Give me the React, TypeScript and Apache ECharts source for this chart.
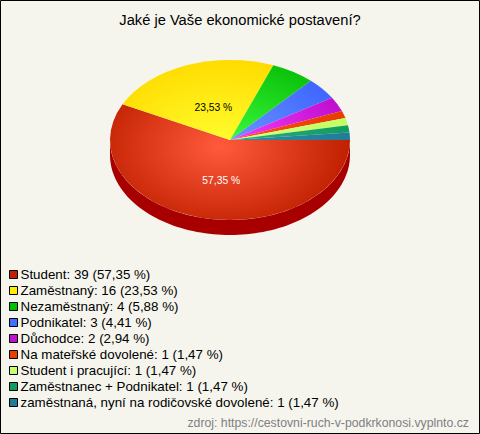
import React, { useEffect, useRef } from "react";
import * as echarts from "echarts";

const categories = ["Student", "Zaměstnaný", "Nezaměstnaný", "Podnikatel", "Důchodce", "Na mateřské dovolené", "Student i pracující", "Zaměstnanec + Podnikatel", "zaměstnaná, nyní na rodičovské dovolené"];
const counts = [39, 16, 4, 3, 2, 1, 1, 1, 1];
const percentText = ["57,35", "23,53", "5,88", "4,41", "2,94", "1,47", "1,47", "1,47", "1,47"];
const edgeColors = ["#c02000", "#ffdc00", "#0cc40c", "#4068ff", "#c010d0", "#e83c00", "#c0ff60", "#109c60", "#207c98"];
const midColors = ["#ff5a3c", "#ffff30", "#40ff40", "#7098ff", "#ff40ff", "#ff5020", "#d8ff88", "#30b080", "#3090a8"];
const legendColors = ["#c02000", "#ffee00", "#00c000", "#4070ff", "#c010d0", "#e84000", "#c8ff70", "#109c60", "#207c98"];
const labelColors = ["#ffffff", "#000000"];
const titleText = "Jaké je Vaše ekonomické postavení?";
const sourceText = "zdroj: https://cestovni-ruch-v-podkrkonosi.vyplnto.cz";

const total = counts.reduce((a, b) => a + b, 0);
const CX = 230, CY = 140, RX = 120, RY = 80, DEPTH = 15;

export default function App() {
  const ref = useRef<HTMLDivElement>(null);
  useEffect(() => {
    const chart = echarts.init(ref.current!, undefined, { renderer: "svg" });
    let running = 0;
    const names = categories.map((c, i) => `${c}: ${counts[i]} (${percentText[i]} %)`);
    const series = counts.map((v, i) => {
      const start = running;
      running += v;
      return {
        type: "custom",
        name: names[i],
        coordinateSystem: "none",
        itemStyle: { color: legendColors[i] },
        silent: true,
        data: [[start, v]],
        renderItem: (_p: any, api: any) => {
          const a0 = (api.value(0) / total) * Math.PI * 2;
          const a1 = ((api.value(0) + api.value(1)) / total) * Math.PI * 2;
          const children: any[] = [];
          const w0 = Math.max(a0, 0), w1 = Math.min(a1, Math.PI);
          if (w1 > w0) {
            const top: number[][] = [], bottom: number[][] = [];
            for (let k = 0; k <= 90; k++) {
              const t = w0 + ((w1 - w0) * k) / 90;
              const x = CX + RX * Math.cos(t), y = CY + RY * Math.sin(t);
              top.push([x, y]);
              bottom.unshift([x, y + DEPTH]);
            }
            children.push({ type: "polygon", shape: { points: top.concat(bottom) }, style: { fill: "#a80000" } });
          }
          children.push({
            type: "sector",
            x: CX, y: CY, scaleY: RY / RX,
            shape: { cx: 0, cy: 0, r: RX, r0: 0, startAngle: a0, endAngle: a1, clockwise: true },
            style: {
              fill: new echarts.graphic.RadialGradient(-10, 10, 130, [
                { offset: 0, color: midColors[i] },
                { offset: 1, color: edgeColors[i] },
              ], true),
            },
          });
          if (i < labelColors.length) {
            const m = (a0 + a1) / 2;
            children.push({
              type: "text",
              x: CX + RX * 0.5 * Math.cos(m) + 5,
              y: CY + RY * 0.485 * Math.sin(m) + 3.2,
              style: {
                text: `${percentText[i]} %`, fill: labelColors[i], align: "center", verticalAlign: "middle",
                font: "10.3px 'Liberation Sans', Arial, sans-serif",
              },
            });
          }
          return { type: "group", children };
        },
      };
    });
    chart.setOption({
      animation: false,
      backgroundColor: "#f5f5ee",
      title: {
        text: titleText, left: "center", top: 7,
        textStyle: { fontFamily: "'Liberation Sans', Arial, sans-serif", fontSize: 14.7, fontWeight: "normal", color: "#000" },
      },
      legend: {
        orient: "vertical", left: 9, top: 268, itemWidth: 8, itemHeight: 8, itemGap: 3, padding: 0,
        icon: "rect", selectedMode: false,
        itemStyle: { borderColor: "#000", borderWidth: 1 },
        textStyle: { fontFamily: "'Liberation Sans', Arial, sans-serif", fontSize: 13.35, color: "#000", padding: [0, 0, 0, -2], lineHeight: 13 },
        data: names,
      },
      graphic: [
        { type: "rect", silent: true, shape: { x: 0.5, y: 0.5, width: 479, height: 433 }, style: { fill: "none", stroke: "#000", lineWidth: 1 } },
        { type: "text", silent: true, x: 469, y: 423, style: { text: sourceText, align: "right", verticalAlign: "middle", fill: "#808080", font: "12.27px 'Liberation Sans', Arial, sans-serif" } },
      ],
      series,
    });
    return () => chart.dispose();
  }, []);
  return <div ref={ref} style={{ position: "absolute", left: 0, top: 0, width: 480, height: 434 }} />;
}
